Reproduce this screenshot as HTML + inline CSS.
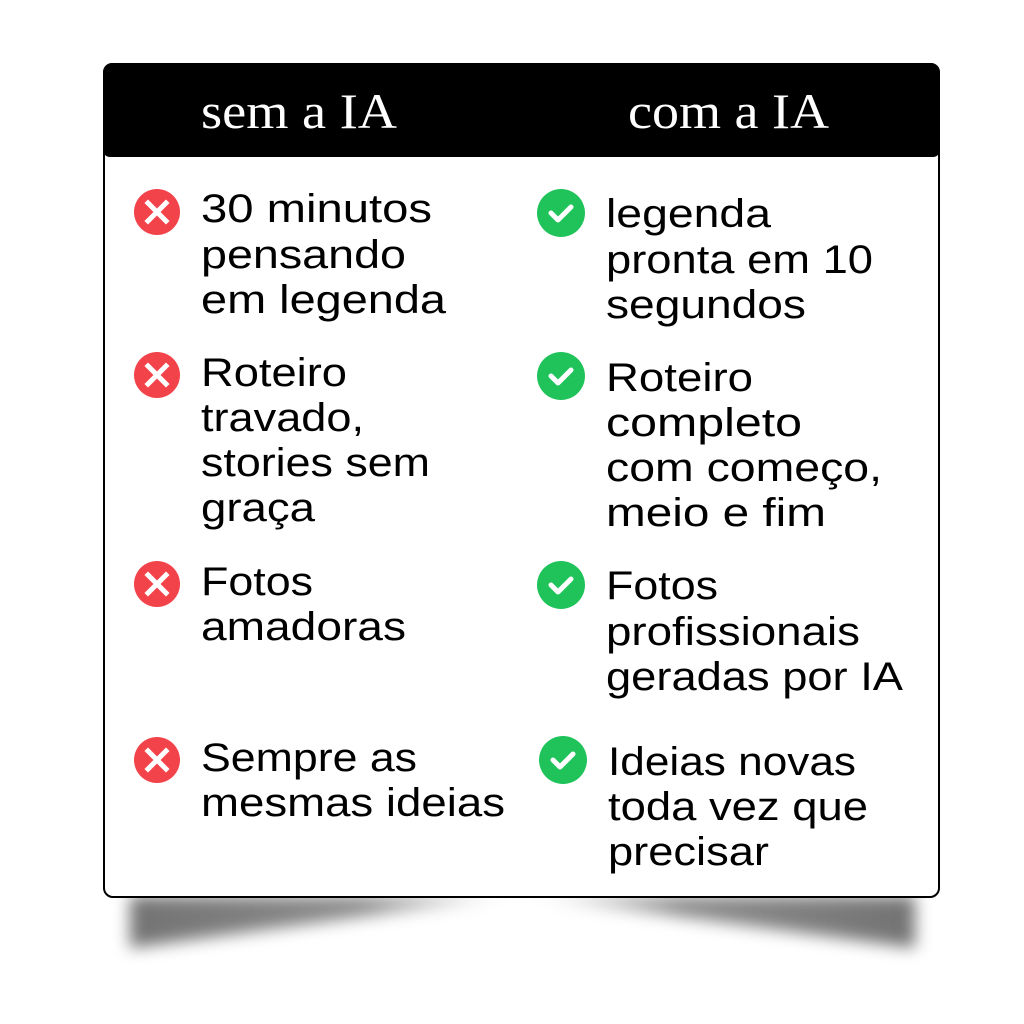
<!DOCTYPE html>
<html><head><meta charset="utf-8"><style>
html,body{margin:0;padding:0;background:#fff;width:1024px;height:1024px;overflow:hidden}
svg{display:block}
text{font-family:"Liberation Sans",sans-serif;font-size:40px;fill:#000}
.h{font-family:"Liberation Serif",serif;font-size:50px;fill:#fff}
</style></head><body>
<svg width="1024" height="1024" viewBox="0 0 1024 1024">
<defs>
<filter id="b" x="-20%" y="-80%" width="140%" height="260%"><feGaussianBlur stdDeviation="8"/></filter>
<linearGradient id="gl" x1="0" y1="0" x2="1" y2="0"><stop offset="0" stop-color="#000" stop-opacity="0.55"/><stop offset="0.6" stop-color="#000" stop-opacity="0.45"/><stop offset="1" stop-color="#000" stop-opacity="0"/></linearGradient>
<linearGradient id="gr" x1="1" y1="0" x2="0" y2="0"><stop offset="0" stop-color="#000" stop-opacity="0.55"/><stop offset="0.6" stop-color="#000" stop-opacity="0.45"/><stop offset="1" stop-color="#000" stop-opacity="0"/></linearGradient>
</defs>
<g filter="url(#b)">
<polygon points="130,896 515,896 130,948" fill="url(#gl)"/>
<polygon points="525,896 915,896 915,948" fill="url(#gr)"/>
</g>
<rect x="104" y="64" width="835" height="833" rx="9" fill="#fff" stroke="#000" stroke-width="2"/>
<path d="M103,72 a9,9 0 0 1 9,-9 h819 a9,9 0 0 1 9,9 v78 a7,7 0 0 1 -7,7 h-823 a7,7 0 0 1 -7,-7 z" fill="#000"/>
<text class="h" x="201" y="128" textLength="196" lengthAdjust="spacingAndGlyphs">sem a IA</text>
<text class="h" x="628" y="128" textLength="201" lengthAdjust="spacingAndGlyphs">com a IA</text>

<g fill="#f2434a">
<circle cx="157" cy="212" r="23"/><circle cx="157" cy="375" r="23"/><circle cx="157" cy="584" r="23"/><circle cx="157" cy="760" r="23"/>
</g>
<g stroke="#fff" stroke-width="5" stroke-linecap="square">
<path d="M148,203 l18,18 M166,203 l-18,18"/>
<path d="M148,366 l18,18 M166,366 l-18,18"/>
<path d="M148,575 l18,18 M166,575 l-18,18"/>
<path d="M148,751 l18,18 M166,751 l-18,18"/>
</g>
<g fill="#1fc35a">
<circle cx="561" cy="213" r="24"/><circle cx="561" cy="376" r="24"/><circle cx="561" cy="585" r="24"/><circle cx="563" cy="760" r="24"/>
</g>
<g stroke="#fff" stroke-width="5" fill="none" stroke-linecap="round" stroke-linejoin="round">
<path d="M551,213 l7,7 l13,-13"/>
<path d="M551,376 l7,7 l13,-13"/>
<path d="M551,585 l7,7 l13,-13"/>
<path d="M553,760 l7,7 l13,-13"/>
</g>

<g>
<text x="201" y="222" textLength="231" lengthAdjust="spacingAndGlyphs">30 minutos</text>
<text x="201" y="268" textLength="205" lengthAdjust="spacingAndGlyphs">pensando</text>
<text x="201" y="313" textLength="245" lengthAdjust="spacingAndGlyphs">em legenda</text>
<text x="201" y="386" textLength="146" lengthAdjust="spacingAndGlyphs">Roteiro</text>
<text x="201" y="431" textLength="163" lengthAdjust="spacingAndGlyphs">travado,</text>
<text x="201" y="476" textLength="229" lengthAdjust="spacingAndGlyphs">stories sem</text>
<text x="201" y="521" textLength="114" lengthAdjust="spacingAndGlyphs">graça</text>
<text x="201" y="595" textLength="112" lengthAdjust="spacingAndGlyphs">Fotos</text>
<text x="201" y="640" textLength="205" lengthAdjust="spacingAndGlyphs">amadoras</text>
<text x="201" y="771" textLength="216" lengthAdjust="spacingAndGlyphs">Sempre as</text>
<text x="201" y="816" textLength="304" lengthAdjust="spacingAndGlyphs">mesmas ideias</text>

<text x="606" y="227" textLength="165" lengthAdjust="spacingAndGlyphs">legenda</text>
<text x="606" y="273" textLength="267" lengthAdjust="spacingAndGlyphs">pronta em 10</text>
<text x="606" y="318" textLength="200" lengthAdjust="spacingAndGlyphs">segundos</text>
<text x="606" y="391" textLength="147" lengthAdjust="spacingAndGlyphs">Roteiro</text>
<text x="606" y="436" textLength="196" lengthAdjust="spacingAndGlyphs">completo</text>
<text x="606" y="481" textLength="276" lengthAdjust="spacingAndGlyphs">com começo,</text>
<text x="606" y="526" textLength="220" lengthAdjust="spacingAndGlyphs">meio e fim</text>
<text x="606" y="599" textLength="112" lengthAdjust="spacingAndGlyphs">Fotos</text>
<text x="606" y="645" textLength="254" lengthAdjust="spacingAndGlyphs">profissionais</text>
<text x="606" y="690" textLength="297" lengthAdjust="spacingAndGlyphs">geradas por IA</text>
<text x="608" y="775" textLength="248" lengthAdjust="spacingAndGlyphs">Ideias novas</text>
<text x="608" y="820" textLength="260" lengthAdjust="spacingAndGlyphs">toda vez que</text>
<text x="608" y="865" textLength="161" lengthAdjust="spacingAndGlyphs">precisar</text>
</g>
</svg>
</body></html>
